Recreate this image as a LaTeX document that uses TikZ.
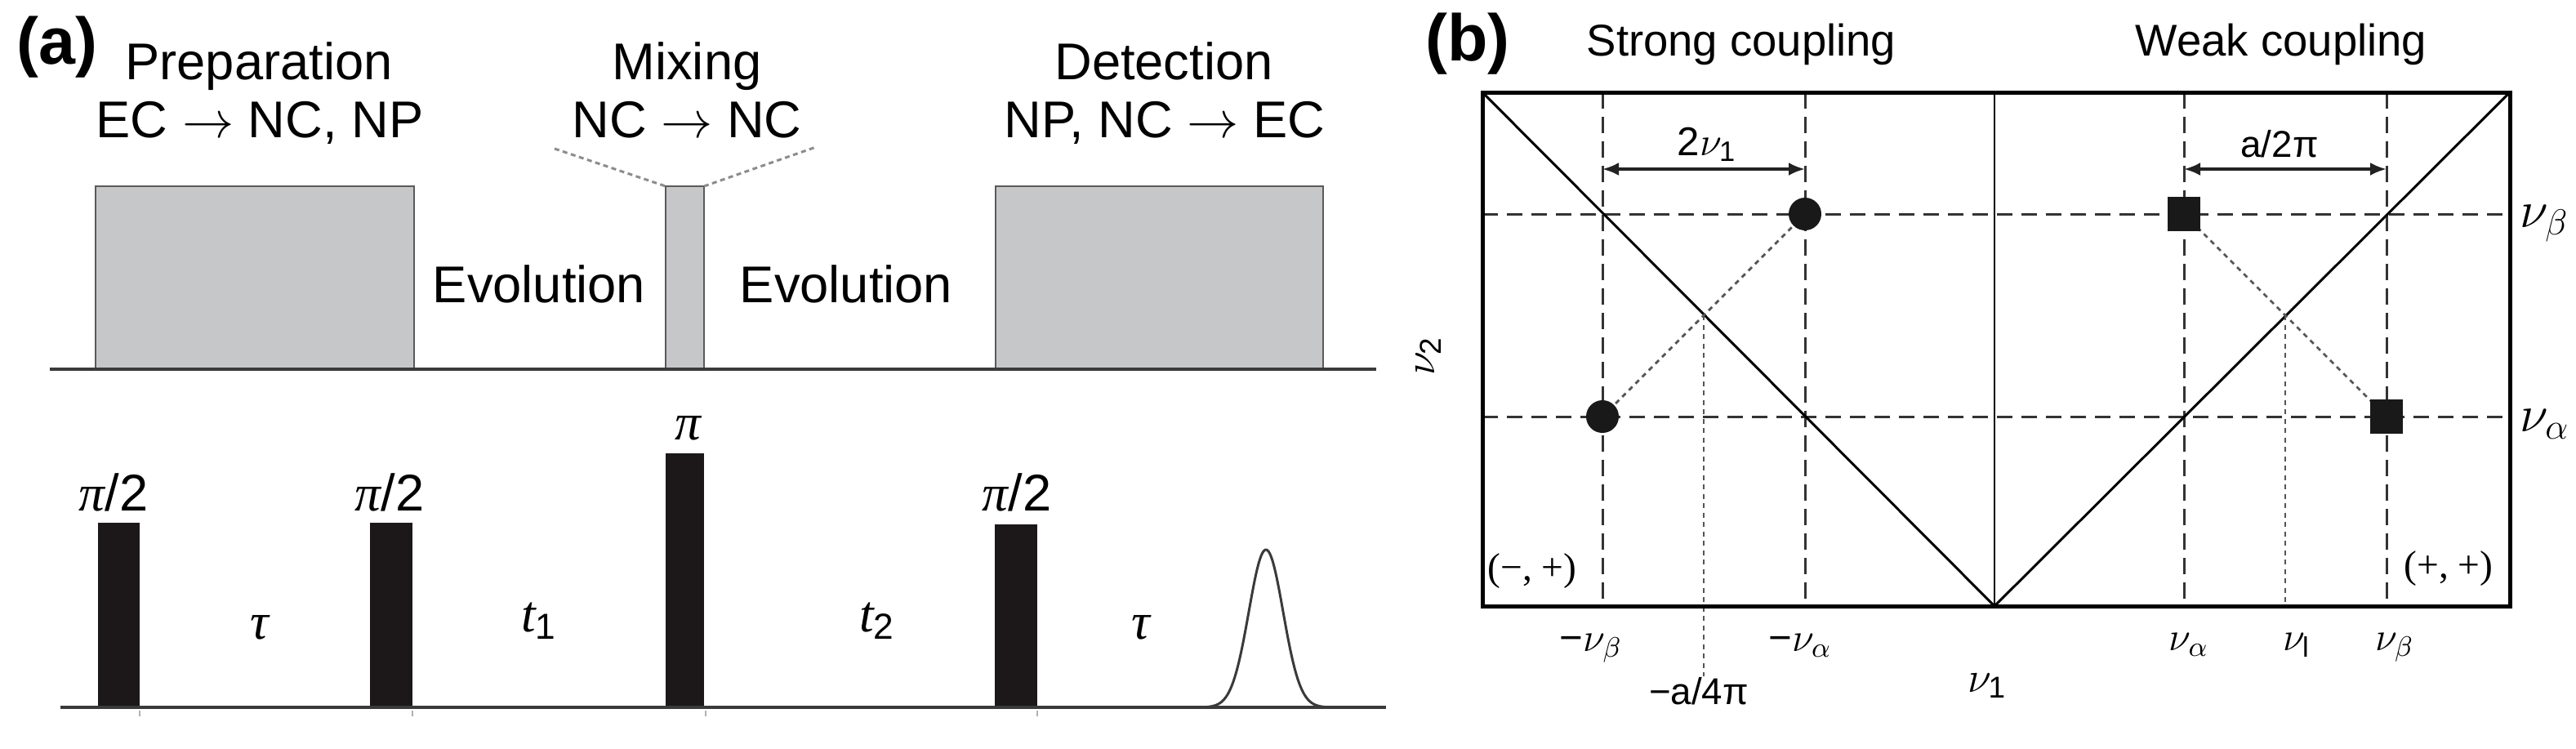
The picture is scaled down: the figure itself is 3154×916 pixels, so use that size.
\RequirePackage{fix-cm}
\documentclass[tikz,border=0pt]{standalone}
\usepackage{amsmath}
\usepackage{fontspec}
\setmainfont{Liberation Sans}
\newfontfamily\tnr{Liberation Serif}
\newcommand{\gk}[1]{\text{\tnr\itshape #1}}
\usetikzlibrary{arrows.meta}
\definecolor{boxgray}{HTML}{C6C7C9}
\definecolor{boxedge}{HTML}{5A5A5A}
\definecolor{pulseblk}{HTML}{1C1819}
\definecolor{lineg}{HTML}{3A3A3A}
\definecolor{dashc}{HTML}{333333}
\definecolor{dotc}{HTML}{555555}
\definecolor{arrc}{HTML}{222222}
\tikzset{
  panlbl/.style={font=\fontsize{23}{26}\selectfont\bfseries, inner sep=0pt},
  ttla/.style={font=\fontsize{18}{20}\selectfont, inner sep=0pt, anchor=base},
  ttlb/.style={font=\fontsize{15.5}{18}\selectfont, inner sep=0pt, anchor=base},
  smlb/.style={font=\fontsize{14}{16}\selectfont, inner sep=0pt, anchor=base},
  axlb/.style={font=\fontsize{18}{20}\selectfont, inner sep=0pt, anchor=base west},
  sgn/.style={font=\tnr\fontsize{13.5}{15}\selectfont, inner sep=0pt},
  seqbox/.style={fill=boxgray, draw=boxedge, line width=0.25mm},
  rfpulse/.style={fill=pulseblk},
  axisline/.style={draw=lineg, line width=0.35mm},
  tickm/.style={draw=gray!60, line width=0.15mm},
  mixdot/.style={draw=gray!90, line width=0.3mm, dash pattern=on 0.6mm off 0.45mm},
  dashv/.style={draw=dashc, line width=0.3mm, dash pattern=on 2mm off 1mm},
  dashh/.style={draw=dashc, line width=0.3mm, dash pattern=on 1.9mm off 1.1mm},
  dotl/.style={draw=dotc, line width=0.28mm, dash pattern=on 0.6mm off 0.55mm},
  diag/.style={draw=black, line width=0.3mm},
  frame/.style={draw=black, line width=0.5mm},
  dimarrow/.style={draw=arrc, line width=0.35mm, {Latex[length=2mm,width=1.6mm]}-{Latex[length=2mm,width=1.6mm]}},
  peak/.style={fill=black!90},
}
\begin{document}
\begin{tikzpicture}[x=0.1mm,y=-0.1mm]
\useasboundingbox (0,0) rectangle (3154,916);
\fill[white] (0,0) rectangle (3154,916);

% ---------------- panel (a) ----------------
\node[panlbl] (la) at (70,58) {(a)};
\node[ttla] (prep) at (317,97) {Preparation};
\node[ttla] (prep2) at (318,168) {EC $\rightarrow$ NC, NP};
\node[ttla] (mix) at (841,97) {Mixing};
\node[ttla] (mix2) at (841,168) {NC $\rightarrow$ NC};
\node[ttla] (det) at (1425,97) {Detection};
\node[ttla] (det2) at (1426,168) {NP, NC $\rightarrow$ EC};
\node[ttla] (ev1) at (660,370) {Evolution};
\node[ttla] (ev2) at (1036,370) {Evolution};

% blocks
\draw[seqbox] (117,452) rectangle (507,228);
\draw[seqbox] (815,452) rectangle (862,228);
\draw[seqbox] (1219,452) rectangle (1620,228);
\coordinate (mixTL) at (815,228);
\coordinate (mixTR) at (862,228);
\coordinate (mixL) at (679,182);
\coordinate (mixR) at (999,180);
\draw[mixdot] (mixL) -- (mixTL);
\draw[mixdot] (mixTR) -- (mixR);
\coordinate (topA) at (61,452);
\coordinate (topB) at (1685,452);
\draw[axisline] (topA) -- (topB);

% pulse sequence
\fill[rfpulse] (120,866) rectangle (171,640);
\fill[rfpulse] (453,866) rectangle (505,640);
\fill[rfpulse] (815,866) rectangle (862,555);
\fill[rfpulse] (1218,866) rectangle (1270,642);
\node[ttla] (p1) at (139,625) {$\gk{π}$/2};
\node[ttla] (p2) at (477,625) {$\gk{π}$/2};
\node[ttla] (p3) at (842,538) {$\gk{π}$};
\node[ttla] (p4) at (1245,625) {$\gk{π}$/2};
\node[ttla] (tau1) at (318,782) {$\gk{τ}$};
\node[ttla] (t1) at (660,773) {$\gk{t}_{\text{1}}$};
\node[ttla] (t2) at (1074,773) {$\gk{t}_{\text{2}}$};
\node[ttla] (tau2) at (1397,782) {$\gk{τ}$};
\coordinate (botA) at (74,866);
\coordinate (botB) at (1697,866);
\draw[axisline] (botA) -- (botB);
\draw[draw=lineg, line width=0.3mm] plot[domain=1470:1630, samples=120, smooth] (\x, {866 - 193*exp(-0.5*((\x-1550)/21)^2)});
\foreach \tx in {171,505,864,1270} \draw[tickm] (\tx,870) -- (\tx,877);

% ---------------- panel (b) ----------------
\node[panlbl] (lb) at (1797,54) {(b)};
\node[ttlb] (strong) at (2132,68) {Strong coupling};
\node[ttlb] (weak) at (2793,68) {Weak coupling};

\coordinate (TL) at (1815,113);
\coordinate (TR) at (3073,113);
\coordinate (BL) at (1815,742);
\coordinate (BR) at (3073,742);
\coordinate (TM) at (2442,113);
\coordinate (BM) at (2442,742);

% grid
\draw[dashh] (1815,262) -- (3073,262);
\draw[dashh] (1815,510) -- (3073,510);
\foreach \vx in {1962,2210,2674,2922} \draw[dashv] (\vx,113) -- (\vx,742);
\draw[diag, line width=0.25mm] (TM) -- (BM);
\draw[diag] (TL) -- (BM) -- (TR);

% peaks
\coordinate (c1) at (2210,262);
\coordinate (c2) at (1962,510);
\coordinate (s1) at (2674,262);
\coordinate (s2) at (2922,510);
\coordinate (xl) at (2086,386);
\coordinate (xlb) at (2086,828);
\coordinate (xr) at (2798,386);
\coordinate (xrb) at (2798,742);
\draw[dotl] (c1) -- (c2);
\draw[dotl] (s1) -- (s2);
\draw[dotl] (xl) -- (xlb);
\draw[dotl] (xr) -- (xrb);
\fill[peak] (c1) circle (2mm);
\fill[peak] (c2) circle (2mm);
\fill[peak] (2654,241) rectangle (2694,283);
\fill[peak] (2902,489) rectangle (2942,531);

\draw[frame] (TL) rectangle (BR);

% dimension arrows
\coordinate (a1l) at (1962,207);
\coordinate (a1r) at (2210,207);
\coordinate (a2l) at (2674,207);
\coordinate (a2r) at (2922,207);
\draw[dimarrow] (a1l) -- (a1r);
\draw[dimarrow] (a2l) -- (a2r);
\node[smlb] (d1) at (2090,190) {2$\nu_{\text{1}}$};
\node[smlb, font=\fontsize{13}{15}\selectfont] (d2) at (2791,192) {a/2π};

% labels
\node[sgn] (mp) at (1876,699) {(−, +)};
\node[sgn] (pp) at (2998,696) {(+, +)};
\node[smlb] (lnb) at (1948,797) {−$\nu_\beta$};
\node[smlb] (lna) at (2204,797) {−$\nu_\alpha$};
\node[smlb, font=\fontsize{13}{15}\selectfont] (la4) at (2080,862) {−a/4π};
\node[smlb] (rna) at (2680,796) {$\nu_\alpha$};
\node[smlb] (rnl) at (2812,796) {$\nu_{\text{l}}$};
\node[smlb] (rnb) at (2932,796) {$\nu_\beta$};
\node[smlb, font=\fontsize{15}{17}\selectfont] (nu1) at (2433,847) {$\nu_{\text{1}}$};
\node[font=\fontsize{15}{17}\selectfont, inner sep=0pt, rotate=90] (nu2) at (1749,436) {$\nu_{\text{2}}$};
\node[axlb] (rb) at (3085,278) {$\nu_\beta$};
\node[axlb] (ra) at (3085,528) {$\nu_\alpha$};
\end{tikzpicture}
\end{document}
